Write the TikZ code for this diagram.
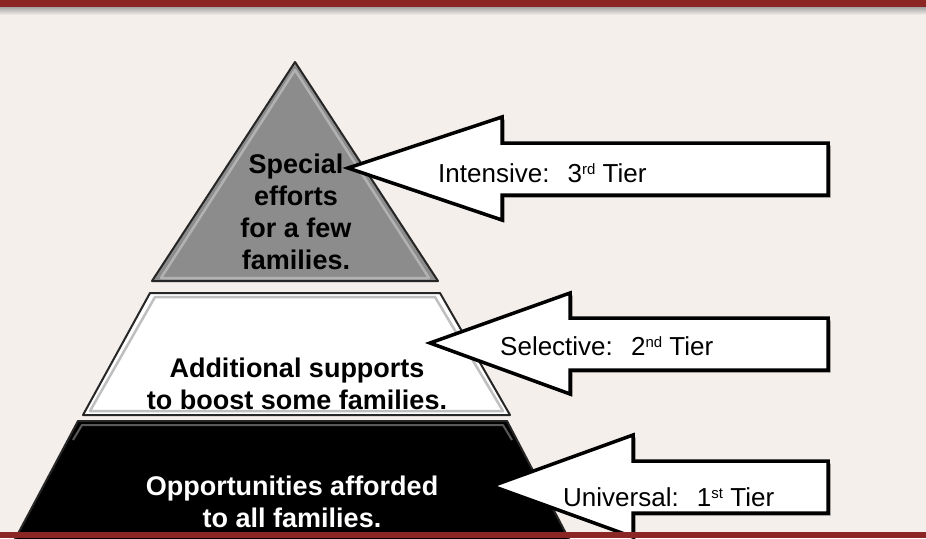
\documentclass[tikz,border=0pt]{standalone}
\usepackage{fontspec}
\setmainfont{Liberation Sans}
\usepackage{tikz}
\usetikzlibrary{shadows}
\definecolor{bandred}{RGB}{139,38,36}
\definecolor{paper}{RGB}{244,239,235}

\begin{document}
\begin{tikzpicture}[x=1pt, y=-1pt,
    layer/.style={draw=black!85, line width=2pt, line join=round},
    bevel/.style={line width=2.5pt, line join=round},
    tiertext/.style={font=\fontsize{27}{32}\selectfont\bfseries, align=center, inner sep=0pt},
    callout/.style={draw=black, fill=white, line width=3.5pt,
      drop shadow={shadow xshift=2.5pt, shadow yshift=-2.5pt, fill=black, opacity=0.5}},
    calltext/.style={font=\fontsize{26}{30}\selectfont, anchor=base west, inner sep=0pt}]
	% background and top band
	\fill[paper] (0,0) rectangle (926,538);
	\useasboundingbox (0,0) rectangle (926,538);
	\shade[top color=black!35, bottom color=paper] (0,7) rectangle (926,15);
	\fill[bandred] (0,0) rectangle (926,7);

	% pyramid
	\draw[layer, fill=black!45] (295,62) -- (438,281) -- (152,281) -- cycle;
	\draw[bevel, black!30] (295,70) -- (429,278) -- (161,278) -- cycle;
	\draw[layer, fill=white] (150,293) -- (440,293) -- (510,415) -- (83,415) -- cycle;
	\draw[bevel, black!25] (155,297) -- (435,297) -- (503,411) -- (90,411) -- cycle;
	\draw[layer, fill=black] (78,421) -- (507,421) -- (572,545) -- (12,545) -- cycle;
	\draw[bevel, black!65, line width=2pt] (512,440) -- (503,425) -- (82,425) -- (73,440);

	\node[tiertext] (special) at (296,212) {Special\\efforts\\for a few\\families.};
	\node[tiertext] (additional) at (297,384) {Additional supports\\to boost some families.};
	\node[tiertext, text=white] (opportunities) at (292,502) {Opportunities afforded\\to all families.};

	% callouts
	\coordinate (tip3) at (348,168);
	\coordinate (tip2) at (430,343);
	\coordinate (tip1) at (492,486);
	\draw[callout] (tip3) -- (502,117) -- (502,143) -- (828,143) -- (828,195) -- (502,195) -- (502,220) -- cycle;
	\draw[callout] (tip2) -- (570,293) -- (570,318) -- (828,318) -- (828,370) -- (570,370) -- (570,394) -- cycle;
	\draw[callout] (tip1) -- (633,435) -- (633,461) -- (828,461) -- (828,513) -- (633,513) -- (633,537) -- cycle;

	\node[calltext] (intensive) at (438,182) {Intensive:\hspace{0.7em}3{\fontsize{15}{15}\selectfont\raisebox{8pt}{rd}} Tier};
	\node[calltext] (selective) at (500,355) {Selective:\hspace{0.7em}2{\fontsize{15}{15}\selectfont\raisebox{8pt}{nd}} Tier};
	\node[calltext] (universal) at (563,506) {Universal:\hspace{0.7em}1{\fontsize{15}{15}\selectfont\raisebox{8pt}{st}} Tier};

	% bottom band
	\fill[bandred] (0,532) rectangle (926,538);
\end{tikzpicture}
\end{document}
